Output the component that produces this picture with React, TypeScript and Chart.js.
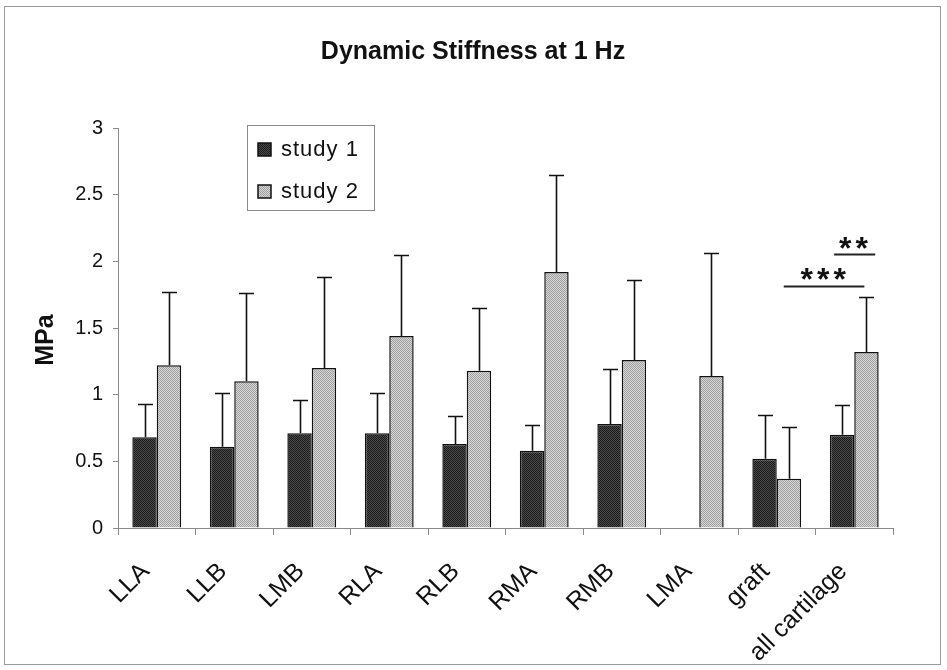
import React, { useEffect, useRef } from "react";
import { Chart, registerables } from "chart.js";

Chart.register(...registerables);

const categories = ["LLA", "LLB", "LMB", "RLA", "RLB", "RMA", "RMB", "LMA", "graft", "all cartilage"];
const seriesNames = ["study 1", "study 2"];
const study1 = [0.68, 0.61, 0.71, 0.71, 0.63, 0.58, 0.78, null, 0.52, 0.7];
const study1ErrTop = [0.93, 1.01, 0.96, 1.01, 0.84, 0.77, 1.19, null, 0.85, 0.92];
const study2 = [1.22, 1.1, 1.2, 1.44, 1.18, 1.92, 1.26, 1.14, 0.37, 1.32];
const study2ErrTop = [1.77, 1.76, 1.88, 2.05, 1.65, 2.65, 1.86, 2.06, 0.76, 1.73];
const yMin = 0;
const yMax = 3;
const yStep = 0.5;
const titleText = "Dynamic Stiffness at 1 Hz";
const yTitle = "MPa";
// significance markers, in category-index units (x) and MPa (y)
const sigLabels = ["***", "**"];
const sigFrom = [8.09, 8.74];
const sigTo = [9.13, 9.27];
const sigLevel = [1.815, 2.055];
const sigTextX = [8.6, 8.99];
const sigTextY = [1.905, 2.14];

const FONT = "'Liberation Sans', Arial, sans-serif";

export default function App() {
  const ref = useRef<HTMLCanvasElement>(null);

  useEffect(() => {
    const canvas = ref.current!;
    const ctx = canvas.getContext("2d")!;
    const mkPattern = (a: string, b: string) => {
      const c = document.createElement("canvas");
      c.width = 2;
      c.height = 2;
      const g = c.getContext("2d")!;
      g.fillStyle = a;
      g.fillRect(0, 0, 2, 2);
      g.fillStyle = b;
      g.fillRect(0, 0, 1, 1);
      g.fillRect(1, 1, 1, 1);
      return ctx.createPattern(c, "repeat")!;
    };
    const darkFill = mkPattern("#4a4a4a", "#1c1c1c");
    const lightFill = mkPattern("#d6d6d6", "#a0a0a0");
    const errTops = [study1ErrTop, study2ErrTop];

    const catPx = (chart: any, v: number) => {
      const xs = chart.scales.x;
      const p0 = xs.getPixelForValue(0);
      const p1 = xs.getPixelForValue(1);
      return p0 + v * (p1 - p0);
    };

    const errorBars = {
      id: "errorBars",
      afterDatasetsDraw(chart: any) {
        const c = chart.ctx;
        const ys = chart.scales.y;
        c.save();
        c.strokeStyle = "#111";
        c.lineWidth = 1.6;
        chart.data.datasets.forEach((ds: any, i: number) => {
          const meta = chart.getDatasetMeta(i);
          meta.data.forEach((el: any, j: number) => {
            const v = ds.data[j];
            const t = errTops[i][j];
            if (v == null || t == null) return;
            const x = Math.round(el.x) + 0.5;
            const yb = ys.getPixelForValue(v);
            const yt = Math.round(ys.getPixelForValue(t)) + 0.5;
            c.beginPath();
            c.moveTo(x, yb);
            c.lineTo(x, yt);
            c.moveTo(x - 7.5, yt);
            c.lineTo(x + 7.5, yt);
            c.stroke();
          });
        });
        c.restore();
      },
    };

    const decorations = {
      id: "decorations",
      afterDraw(chart: any) {
        const c = chart.ctx;
        const ys = chart.scales.y;
        c.save();
        // outer frame
        c.strokeStyle = "#9a9a9a";
        c.lineWidth = 1;
        c.strokeRect(4.5, 6.5, 936, 658);
        // title
        c.fillStyle = "#111";
        c.font = `bold 25px ${FONT}`;
        c.textAlign = "center";
        c.textBaseline = "alphabetic";
        c.fillText(titleText, 473, 59);
        // y title
        c.save();
        c.translate(46, 340);
        c.rotate(-Math.PI / 2);
        c.font = `bold 25px ${FONT}`;
        c.textAlign = "center";
        c.textBaseline = "middle";
        c.fillText(yTitle, 0, 0);
        c.restore();
        // legend
        c.strokeStyle = "#8a8a8a";
        c.lineWidth = 1;
        c.fillStyle = "#fff";
        c.fillRect(247.5, 125.5, 127, 85);
        c.strokeRect(247.5, 125.5, 127, 85);
        const fills = [darkFill, lightFill];
        const rowBase = [156, 198];
        seriesNames.forEach((name, i) => {
          c.fillStyle = fills[i];
          c.fillRect(258, rowBase[i] - 13, 13, 13);
          c.strokeStyle = "#111";
          c.lineWidth = 1.5;
          c.strokeRect(258, rowBase[i] - 13, 13, 13);
          c.fillStyle = "#111";
          c.font = `22px ${FONT}`;
          c.textAlign = "left";
          c.textBaseline = "alphabetic";
          (c as any).letterSpacing = "1px";
          c.fillText(name, 281, rowBase[i]);
          (c as any).letterSpacing = "0px";
        });
        // significance
        sigLabels.forEach((lab, i) => {
          const y = Math.round(ys.getPixelForValue(sigLevel[i])) + 0.5;
          c.strokeStyle = "#222";
          c.lineWidth = 2;
          c.beginPath();
          c.moveTo(catPx(chart, sigFrom[i]), y);
          c.lineTo(catPx(chart, sigTo[i]), y);
          c.stroke();
          c.fillStyle = "#111";
          c.font = `bold 32px ${FONT}`;
          c.textAlign = "center";
          c.textBaseline = "alphabetic";
          (c as any).letterSpacing = "4px";
          const m = c.measureText(lab);
          const cy = ys.getPixelForValue(sigTextY[i]);
          const yDraw = cy - (m.actualBoundingBoxDescent - m.actualBoundingBoxAscent) / 2;
          c.fillText(lab, catPx(chart, sigTextX[i]) + 2, yDraw);
          (c as any).letterSpacing = "0px";
        });
        c.restore();
      },
    };

    const chart = new Chart(canvas, {
      type: "bar",
      data: {
        labels: categories,
        datasets: [
          {
            label: seriesNames[0],
            data: study1 as any,
            backgroundColor: darkFill as any,
            borderColor: "#111",
            borderWidth: 1.5,
            categoryPercentage: 0.63,
            barPercentage: 1,
          },
          {
            label: seriesNames[1],
            data: study2 as any,
            backgroundColor: lightFill as any,
            borderColor: "#111",
            borderWidth: 1.5,
            categoryPercentage: 0.63,
            barPercentage: 1,
          },
        ],
      },
      options: {
        responsive: false,
        animation: false,
        devicePixelRatio: 1,
        layout: { padding: { left: 0, right: 54, top: 128, bottom: 0 } },
        plugins: {
          legend: { display: false },
          title: { display: false },
          tooltip: { enabled: false },
        },
        scales: {
          x: {
            grid: {
              offset: true,
              drawOnChartArea: false,
              drawTicks: true,
              tickLength: 7,
              color: "#8a8a8a",
            },
            border: { display: true, color: "#8a8a8a", width: 1 },
            ticks: {
              maxRotation: 45,
              minRotation: 45,
              autoSkip: false,
              color: "#111",
              font: { family: FONT, size: 25 },
              padding: 22,
              labelOffset: -11,
            },
            afterFit: (s: any) => {
              s.height = 142;
            },
          },
          y: {
            min: yMin,
            max: yMax,
            grid: {
              drawOnChartArea: false,
              drawTicks: true,
              tickLength: 5,
              color: "#8a8a8a",
            },
            border: { display: true, color: "#8a8a8a", width: 1 },
            ticks: {
              stepSize: yStep,
              color: "#111",
              font: { family: FONT, size: 20 },
              padding: 10,
              callback: (v: any) => String(Number(v)),
            },
            afterFit: (s: any) => {
              s.width = 118;
            },
          },
        },
      },
      plugins: [errorBars, decorations],
    });
    return () => chart.destroy();
  }, []);

  return (
    <div style={{ position: "absolute", left: 0, top: 0, width: 947, height: 670, background: "#fff" }}>
      <canvas ref={ref} width={947} height={670} style={{ display: "block" }} />
    </div>
  );
}
